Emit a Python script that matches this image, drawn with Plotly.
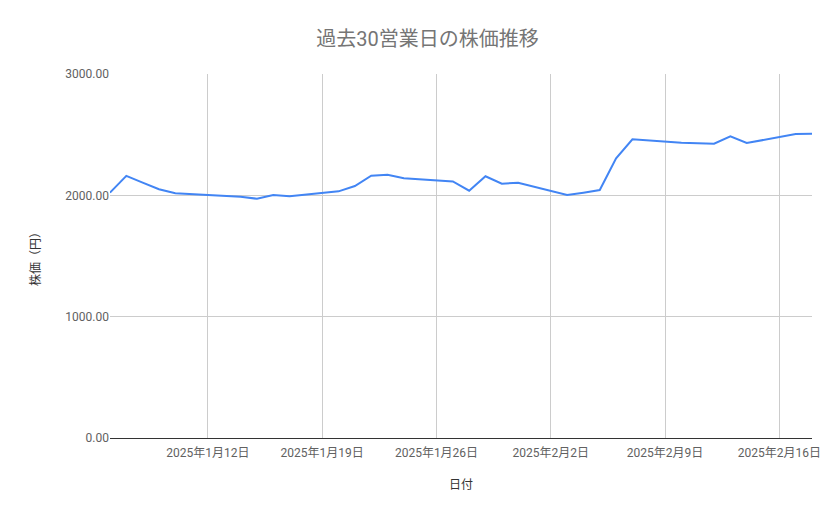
import plotly.graph_objects as go

dates = [
    "2025-01-06", "2025-01-07", "2025-01-08", "2025-01-09", "2025-01-10",
    "2025-01-14", "2025-01-15", "2025-01-16", "2025-01-17",
    "2025-01-20", "2025-01-21", "2025-01-22", "2025-01-23", "2025-01-24",
    "2025-01-27", "2025-01-28", "2025-01-29", "2025-01-30", "2025-01-31",
    "2025-02-03", "2025-02-04", "2025-02-05", "2025-02-06", "2025-02-07",
    "2025-02-10", "2025-02-12", "2025-02-13", "2025-02-14",
    "2025-02-17", "2025-02-18",
]
prices = [
    2022, 2160, 2105, 2050, 2017,
    1988, 1972, 2003, 1992,
    2033, 2077, 2162, 2170, 2140,
    2114, 2038, 2157, 2096, 2104,
    2003, 2022, 2044, 2305, 2462,
    2434, 2426, 2487, 2431,
    2505, 2508,
]

FONT = "Roboto, 'Noto Sans CJK JP', sans-serif"

fig = go.Figure()
fig.add_trace(go.Scatter(
    x=dates, y=prices, mode="lines",
    line=dict(color="#4285F4", width=2),
    hoverinfo="x+y",
))

fig.update_layout(
    width=839, height=519,
    margin=dict(l=102, r=35, t=66, b=89),
    paper_bgcolor="white", plot_bgcolor="white",
    showlegend=False,
    font=dict(family=FONT, color="#444444", size=12),
    title=dict(
        text="過去30営業日の株価推移",
        x=0.5, xanchor="center", y=1 - 31 / 519, yanchor="middle",
        font=dict(family=FONT, size=20, color="#757575"),
    ),
    xaxis=dict(
        type="date",
        range=["2025-01-06", "2025-02-18"],
        tick0="2025-01-12", dtick=7 * 24 * 3600 * 1000,
        tickformat="%Y年%-m月%-d日",
        showgrid=True, gridcolor="#cccccc", gridwidth=1,
        showline=True, linecolor="#333333", linewidth=1,
        ticks="", ticklabelstandoff=4,
        tickfont=dict(size=12, color="#616161"),
        title=dict(text="日付", font=dict(size=12, color="#333333"), standoff=21),
        zeroline=False,
    ),
    yaxis=dict(
        range=[0, 3000], dtick=1000, tickformat=".2f",
        showgrid=True, gridcolor="#cccccc", gridwidth=1,
        zeroline=False, showline=False, ticks="",
        tickfont=dict(size=12, color="#616161"),
        title=dict(text="株価（円）", font=dict(size=12, color="#333333"), standoff=22),
    ),
)

fig.write_html("out.html")
